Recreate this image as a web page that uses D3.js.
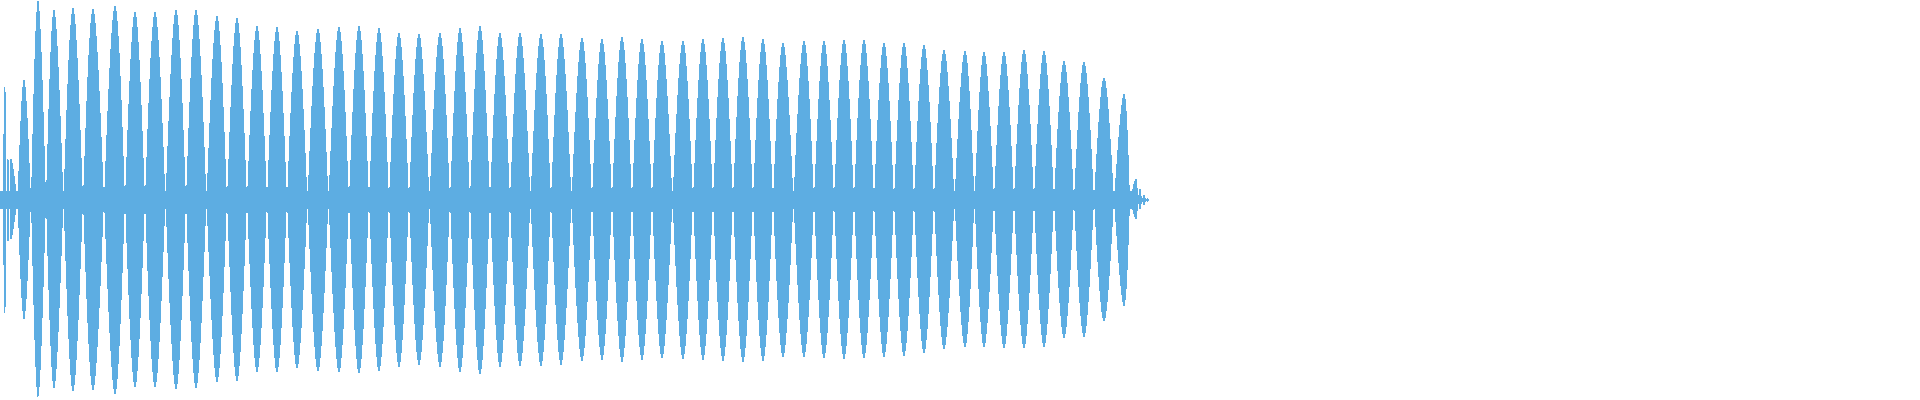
<!DOCTYPE html>
<html>
<head>
<meta charset="utf-8">
<script src="https://cdn.jsdelivr.net/npm/d3@7"></script>
<style>
  html, body { margin: 0; padding: 0; background: #fff; overflow: hidden; }
</style>
</head>
<body>
<div id="chart"></div>
<script>
// envelope peaks of the waveform, position in frames (0..1920)
const peakPos = [5, 8, 11, 24, 38, 54, 73, 93, 115, 135,
  155, 176, 196, 217, 237, 257, 277, 297, 318, 339,
  359, 379, 399, 419, 440, 460, 480, 500, 520, 541,
  561, 582, 602, 622, 642, 662, 683, 703, 723, 743,
  763, 783, 804, 824, 844, 864, 884, 904, 924, 944,
  965, 984, 1004, 1024, 1044, 1064, 1084, 1104, 1124, 1136,
  1140, 1144, 1148];

// positive peak of each lobe
const peakMax = [0.61, 0.24, 0.21, 0.605, 1.0, 0.955, 0.965, 0.96, 0.975, 0.945,
  0.945, 0.955, 0.955, 0.925, 0.915, 0.875, 0.87, 0.85, 0.86, 0.87,
  0.875, 0.865, 0.84, 0.835, 0.84, 0.865, 0.875, 0.84, 0.84, 0.835,
  0.835, 0.815, 0.81, 0.82, 0.81, 0.80, 0.80, 0.81, 0.815, 0.82,
  0.81, 0.79, 0.80, 0.80, 0.805, 0.805, 0.79, 0.79, 0.78, 0.755,
  0.75, 0.745, 0.745, 0.755, 0.75, 0.70, 0.695, 0.615, 0.535, 0.11,
  0.06, 0.03, 0.01];

// negative peak of each lobe
const peakMin = [-0.61, -0.24, -0.20, -0.60, -0.99, -0.945, -0.96, -0.955, -0.975, -0.94,
  -0.94, -0.95, -0.945, -0.915, -0.91, -0.865, -0.865, -0.845, -0.86, -0.865,
  -0.87, -0.86, -0.84, -0.83, -0.84, -0.865, -0.875, -0.84, -0.835, -0.835,
  -0.83, -0.81, -0.805, -0.815, -0.805, -0.795, -0.80, -0.805, -0.81, -0.815,
  -0.81, -0.79, -0.79, -0.795, -0.80, -0.795, -0.79, -0.785, -0.77, -0.75,
  -0.74, -0.74, -0.745, -0.745, -0.74, -0.695, -0.69, -0.61, -0.535, -0.10,
  -0.05, -0.03, -0.01];

// steady low-level band between the lobes
const bandRange = [0, 1134];
const bandLevel = [0.045, -0.045];
const endPos = 1150;
const totalFrames = 1920;

const width = 1920, height = 400;
const color = '#5dade2';
const overlap = 1.0;

const svg = d3.select('#chart').append('svg')
  .attr('width', width)
  .attr('height', height)
  .style('display', 'block');

const x = d3.scaleLinear().domain([0, totalFrames]).range([0, width]);
const y = d3.scaleLinear().domain([-1, 1]).range([height, 0]);

const area = d3.area()
  .curve(d3.curveNatural)
  .x(d => x(d.t))
  .y0(d => y(d.lo))
  .y1(d => y(d.hi));

// band
svg.append('path')
  .datum(bandRange.map(t => ({ t, hi: bandLevel[0], lo: bandLevel[1] })))
  .attr('fill', color)
  .attr('shape-rendering', 'crispEdges')
  .attr('d', d3.area().x(d => x(d.t)).y0(d => y(d.lo)).y1(d => y(d.hi)));

// lobes
const lobes = peakPos.map((p, i) => {
  const prev = i === 0 ? 0 : peakPos[i - 1];
  const next = i === peakPos.length - 1 ? endPos : peakPos[i + 1];
  return [
    { t: p - (p - prev) / 2 * overlap, hi: 0, lo: 0 },
    { t: p, hi: peakMax[i], lo: peakMin[i] },
    { t: p + (next - p) / 2 * overlap, hi: 0, lo: 0 }
  ];
});

svg.append('g')
  .selectAll('path')
  .data(lobes)
  .join('path')
  .attr('fill', color)
  .attr('shape-rendering', 'crispEdges')
  .attr('d', area);
</script>
</body>
</html>
